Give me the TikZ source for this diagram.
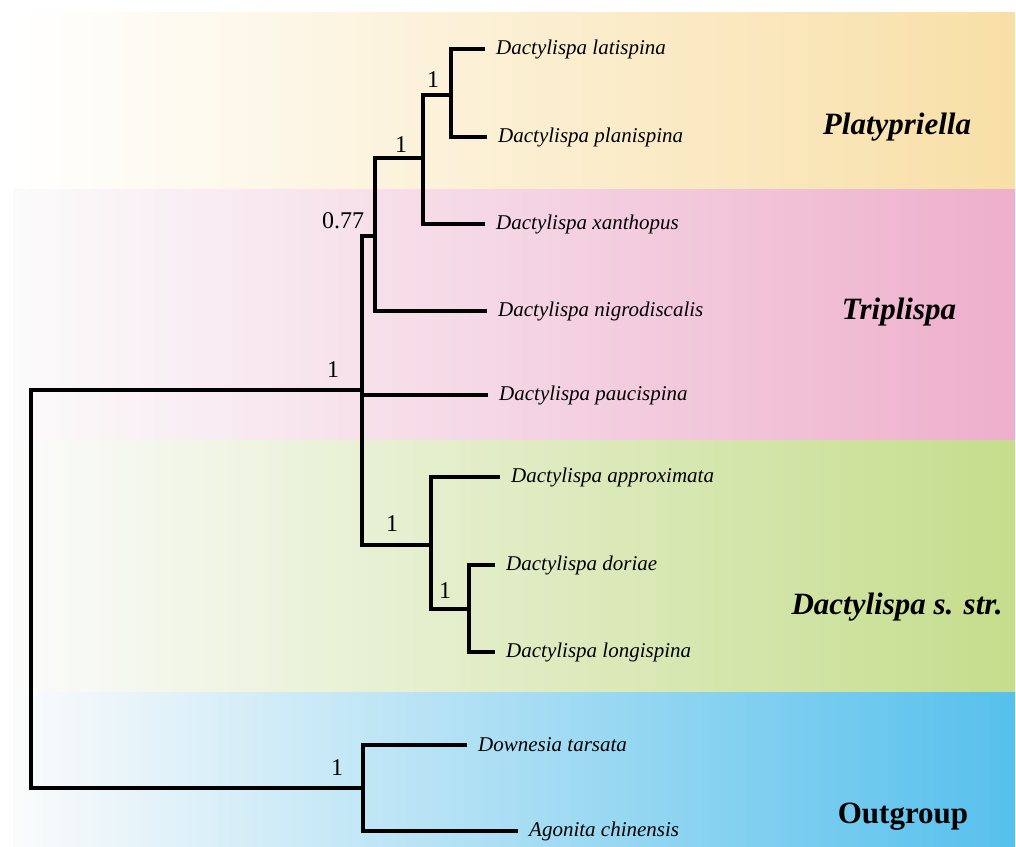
\documentclass[tikz,border=0pt]{standalone}
\usepackage{fontspec}
\setmainfont{Liberation Serif}
\usepackage{tikz}
\usetikzlibrary{calc}
\definecolor{colorplat}{HTML}{F8DFA6}
\definecolor{colortrip}{HTML}{EEAFCC}
\definecolor{colordact}{HTML}{C5DD8C}
\definecolor{colorout}{HTML}{56C0EC}
\tikzset{
  branch/.style={black, line width=4pt},
  taxon/.style={anchor=west, inner xsep=11pt, inner ysep=0pt, font=\fontsize{21}{25}\selectfont\itshape},
  support/.style={inner sep=0pt, font=\fontsize{24}{28}\selectfont},
  clade/.style={inner sep=0pt, font=\fontsize{31}{36}\selectfont\bfseries\itshape},
  cladeup/.style={inner sep=0pt, font=\fontsize{31}{36}\selectfont\bfseries},
  band/.style={left color=white!97!gray}
}

\begin{document}
\begin{tikzpicture}[x=1pt, y=-1pt]
\useasboundingbox (0,0) rectangle (1016,846);
% coloured bands
\fill[band, left color=white, right color=colorplat] (13,12) rectangle (1015,189);
\fill[band, right color=colortrip] (13,189) rectangle (1015,440);
\fill[band, right color=colordact] (13,440) rectangle (1015,692);
\fill[band, right color=colorout] (13,692) rectangle (1015,846);

\node[clade] (plat) at (897,127) {Platypriella};
\node[clade] (trip) at (899,312) {Triplispa};
\node[clade] (dact) at (897,607) {Dactylispa s. str.};
\node[cladeup] (outg) at (903,817) {Outgroup};

% taxa
\node[taxon] (lat) at (485,49) {Dactylispa latispina};
\node[taxon] (pla) at (487,137) {Dactylispa planispina};
\node[taxon] (xan) at (485,224) {Dactylispa xanthopus};
\node[taxon] (nig) at (487,311) {Dactylispa nigrodiscalis};
\node[taxon] (pau) at (488,395) {Dactylispa paucispina};
\node[taxon] (app) at (500,477) {Dactylispa approximata};
\node[taxon] (dor) at (495,565) {Dactylispa doriae};
\node[taxon] (lon) at (495,652) {Dactylispa longispina};
\node[taxon] (dow) at (467,745) {Downesia tarsata};
\node[taxon] (ago) at (518,831) {Agonita chinensis};

% inner nodes
\coordinate (nA) at (451,95);
\coordinate (nB) at (423,158);
\coordinate (nC) at (375,236);
\coordinate (nD) at (362,390);
\coordinate (nE) at (431,545);
\coordinate (nF) at (469,609);
\coordinate (nG) at (363,788);
\coordinate (base) at (31,788);

\draw[branch] (lat.west) -| (nA) |- (pla.west);
\draw[branch] (nA) -| (nB) |- (xan.west);
\draw[branch] (nB) -| (nC) |- (nig.west);
\draw[branch] (nC) -- (nC -| nD) |- (nE);
\draw[branch] (pau.west) -- (pau.west -| nD);
\draw[branch] (app.west) -| (nE) |- (nF);
\draw[branch] (dor.west) -| (nF) |- (lon.west);
\draw[branch] (nD) -| (base) -- (nG);
\draw[branch] (dow.west) -| (nG) |- (ago.west);

% posterior probabilities
\node[support] (sA) at (433,80) {1};
\node[support] (sB) at (401,145) {1};
\node[support] (sC) at (343,221) {0.77};
\node[support] (sD) at (333,370) {1};
\node[support] (sE) at (392,524) {1};
\node[support] (sF) at (445,591) {1};
\node[support] (sG) at (337,768) {1};
\end{tikzpicture}
\end{document}
